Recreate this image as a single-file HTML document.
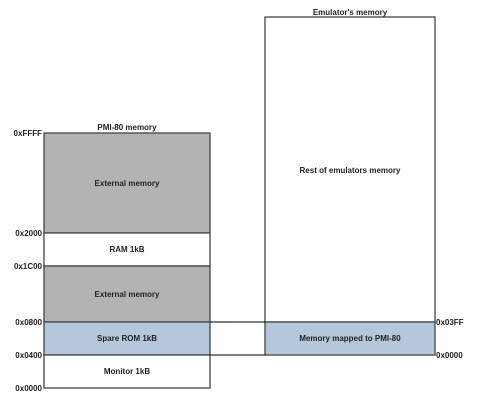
<!DOCTYPE html>
<html><head><style>body{margin:0;background:#fff}svg{display:block}text{font-family:"Liberation Sans",sans-serif;font-size:8px;font-weight:bold;fill:#222}</style></head>
<body>
<svg width="478" height="400" viewBox="0 0 478 400">
<g stroke="#444" stroke-width="1.3">
<rect x="44" y="133" width="166" height="100" fill="#b3b3b3"/>
<rect x="44" y="233" width="166" height="33" fill="#fff"/>
<rect x="44" y="266" width="166" height="56" fill="#b3b3b3"/>
<rect x="44" y="322" width="166" height="33" fill="#b4c7dc"/>
<rect x="44" y="355" width="166" height="33" fill="#fff"/>
<rect x="265" y="17" width="170" height="305" fill="#fff"/>
<rect x="265" y="322" width="170" height="33" fill="#b4c7dc"/>
</g>
<g stroke="#000" stroke-width="1">
<line x1="210" y1="322" x2="265" y2="322"/>
<line x1="210" y1="355" x2="265" y2="355"/>
</g>
<g text-anchor="middle">
<text x="127" y="130">PMI-80 memory</text>
<text x="127" y="186">External memory</text>
<text x="127" y="252">RAM 1kB</text>
<text x="127" y="297">External memory</text>
<text x="127" y="341">Spare ROM 1kB</text>
<text x="127" y="374">Monitor 1kB</text>
<text x="350" y="15">Emulator's memory</text>
<text x="350" y="173">Rest of emulators memory</text>
<text x="350" y="341">Memory mapped to PMI-80</text>
</g>
<g text-anchor="end">
<text x="42" y="136">0xFFFF</text>
<text x="42" y="236">0x2000</text>
<text x="42" y="269">0x1C00</text>
<text x="42" y="325">0x0800</text>
<text x="42" y="358">0x0400</text>
<text x="42" y="391">0x0000</text>
</g>
<text x="436" y="325">0x03FF</text>
<text x="436" y="358">0x0000</text>
</svg>
</body></html>
